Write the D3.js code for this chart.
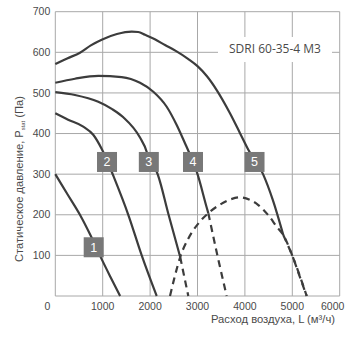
<!DOCTYPE html>
<html><head><meta charset="utf-8">
<script src="https://cdn.jsdelivr.net/npm/d3@7"></script>
<style>body{margin:0;background:#fff}svg{display:block}</style>
</head><body>
<script>
const xTicks = [0,1000,2000,3000,4000,5000,6000];
const yTicks = [100,200,300,400,500,600,700];
const chartTitle = "SDRI 60-35-4 M3";
const xTitle = "Расход воздуха, L (м³/ч)";
const curveNames = ["1","2","3","4","5"];
const curve1 = [[0,300],[260,250],[520,200],[740,150],[940,100],[1150,50],[1367,0]];
const curve2 = [[0,450],[270,434],[590,417],[800,397],[980,362],[1100,332],[1190,306],[1540,200],[1823,100],[2139,0]];
const curve3 = [[0,502],[415,495],[907,478],[1200,460],[1435,440],[1787,390],[1928,355],[1977,332],[2139,306],[2390,200],[2635,96]];
const curve3Dash = [[2635,96],[2720,48],[2806,0]];
const curve4 = [[0,525],[415,535],[907,542],[1400,539],[1787,525],[2068,503],[2350,466],[2561,421],[2736,376],[2827,352],[2905,330],[2983,306],[3194,218],[3228,204]];
const curve4Dash = [[3228,204],[3420,100],[3615,0]];
const curve5 = [[0,571],[250,585],[521,599],[750,617],[978,631],[1300,645],[1612,651],[1750,650],[1892,643],[2100,632],[2314,618],[2550,603],[2800,584],[3000,566],[3200,541],[3405,507],[3685,450],[3897,401],[4072,360],[4383,300],[4590,236],[4810,150]];
const curve5Dash = [[4810,150],[5008,97],[5304,0]];
const boundary = [[2420,0],[2520,48],[2635,96],[2800,140],[3050,183],[3228,204],[3460,224],[3700,238],[3897,243],[4100,237],[4283,224],[4500,198],[4670,171],[4810,150],[5008,97],[5150,50],[5304,0]];
const labelX = [810,1091,1973,2905,4203];
const labelY = [120,330,330,330,330];

const W=348,H=341;
const svg=d3.select("body").append("svg").attr("width",W).attr("height",H);
const x=d3.scaleLinear().domain([0,6000]).range([55.3,339.7]);
const y=d3.scaleLinear().domain([0,700]).range([296,11.7]);
const gridC="#a8a8a8", textC="#4a4a4a", lineC="#3c3c3c";
const font="Liberation Sans, Arial, sans-serif";

// grid
svg.append("g").selectAll("line").data(xTicks).join("line")
  .attr("x1",d=>x(d)).attr("x2",d=>x(d)).attr("y1",y(0)).attr("y2",y(700))
  .attr("stroke",gridC).attr("stroke-width",1);
svg.append("g").selectAll("line").data([0].concat(yTicks)).join("line")
  .attr("x1",x(0)).attr("x2",x(6000)).attr("y1",d=>y(d)).attr("y2",d=>y(d))
  .attr("stroke",gridC).attr("stroke-width",1);

// tick labels
svg.append("g").selectAll("text").data(yTicks).join("text")
  .attr("x",x(0)-5).attr("y",d=>y(d)).attr("dy","0.35em")
  .attr("text-anchor","end").attr("font-family",font)
  .attr("font-size",10.5).attr("fill",textC).text(d=>d);
svg.append("g").selectAll("text").data(xTicks).join("text")
  .attr("x",d=>d===0?x(d)-8:(d===6000?x(d)-7:x(d))).attr("y",310)
  .attr("text-anchor","middle").attr("font-family",font)
  .attr("font-size",10.5).attr("fill",textC).text(d=>d);

// axis titles
svg.append("text").attr("x",335).attr("y",323).attr("text-anchor","end")
  .attr("font-family",font).attr("font-size",10.5)
  .attr("textLength",124).attr("lengthAdjust","spacingAndGlyphs")
  .attr("fill",textC).text(xTitle);
const yt=svg.append("text").attr("transform","translate(23,262) rotate(-90)")
  .attr("text-anchor","start").attr("font-family",font)
  .attr("font-size",10.5).attr("fill",textC)
  .attr("textLength",166).attr("lengthAdjust","spacingAndGlyphs");
yt.append("tspan").text("Статическое давление, P");
yt.append("tspan").attr("font-size",5.5).attr("dy",2).text("stat");
yt.append("tspan").attr("dy",-2).text(" (Па)");

// title box
svg.append("rect").attr("x",218).attr("y",37).attr("width",114).attr("height",25).attr("fill","#fff");
svg.append("text").attr("x",275).attr("y",49).attr("dy","0.35em").attr("text-anchor","middle")
  .attr("font-family","Open Sans, sans-serif").attr("font-size",12).attr("fill",textC).text(chartTitle);

// curves
const line=d3.line().x(d=>x(d[0])).y(d=>y(d[1])).curve(d3.curveMonotoneX);
const solids=[curve1,curve2,curve3,curve4,curve5];
const dashes=[curve3Dash,curve4Dash,curve5Dash,boundary];
svg.append("g").selectAll("path").data(solids).join("path")
  .attr("d",line).attr("fill","none").attr("stroke",lineC).attr("stroke-width",2.2);
svg.append("g").selectAll("path").data(dashes).join("path")
  .attr("d",line).attr("fill","none").attr("stroke",lineC).attr("stroke-width",2.2)
  .attr("stroke-dasharray","7,5");

// labels
const lg=svg.append("g").selectAll("g").data(curveNames).join("g")
  .attr("transform",(d,i)=>`translate(${x(labelX[i])},${y(labelY[i])})`);
lg.append("rect").attr("x",-10).attr("y",-10).attr("width",20).attr("height",20).attr("fill","#787878");
lg.append("text").attr("text-anchor","middle").attr("dy","0.36em")
  .attr("font-family",font).attr("font-size",12.5)
  .attr("fill","#fff").text(d=>d);
</script>
</body></html>
